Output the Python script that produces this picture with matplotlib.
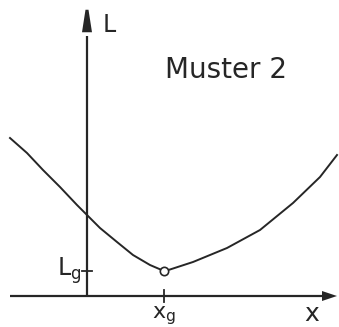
import matplotlib
matplotlib.use("Agg")
import matplotlib.pyplot as plt

# sketch of the cost curve L(x) with its minimum at (x_g, L_g)
left_x = [-3.08, -2.40, -1.76, -1.08, -0.40, 0.00, 0.52, 1.20, 1.84, 2.52, 3.08]
left_L = [6.32, 5.72, 5.04, 4.36, 3.64, 3.24, 2.72, 2.16, 1.64, 1.24, 1.00]
right_x = [3.08, 3.32, 4.24, 5.60, 6.92, 8.24, 9.32, 10.00]
right_L = [1.00, 1.06, 1.36, 1.92, 2.64, 3.72, 4.76, 5.64]
x_g = 3.08
L_g = 1.00
title = "Muster 2"

ink = "#262626"
plt.rcParams['font.family'] = ['DejaVu Sans']
plt.rcParams['mathtext.fontset'] = 'dejavusans'

fig = plt.figure(figsize=(3.39, 3.27), dpi=100)
ax = fig.add_axes([0, 0, 1, 1])
ax.set_xlim(-3.48, 10.08)
ax.set_ylim(-1.24, 11.84)
ax.axis('off')

# axes with arrow heads
ax.plot([-3.1, 9.5], [0, 0], color=ink, lw=1.6, solid_capstyle='butt')
ax.plot([0, 0], [-0.04, 10.4], color=ink, lw=1.6, solid_capstyle='butt')
ax.fill([9.4, 10.0, 9.4], [0.2, 0.0, -0.2], color=ink, lw=0)
ax.fill([-0.2, -0.06, 0.06, 0.2], [10.55, 11.45, 11.45, 10.55], color=ink, lw=0)

# curve
ax.plot(left_x, left_L, color=ink, lw=1.4, solid_joinstyle='round')
ax.plot(right_x, right_L, color=ink, lw=1.4, solid_joinstyle='round')
ax.plot([x_g], [L_g], 'o', ms=6, mfc='white', mec=ink, mew=1.2, zorder=5)

# ticks at L_g and x_g
ax.plot([-0.2, 0.2], [L_g, L_g], color=ink, lw=1.3)
ax.plot([x_g, x_g], [-0.24, 0.24], color=ink, lw=1.3)

ax.text(0.62, 10.85, "L", fontsize=17, color=ink, ha='left', va='center')
ax.text(5.56, 9.05, title, fontsize=20, color=ink, ha='center', va='center')
ax.text(-0.22, 1.0, r"$\mathregular{L_g}$", fontsize=17, color=ink,
        ha='right', va='center')
ax.text(x_g, -0.8, r"$\mathregular{x_g}$", fontsize=16, color=ink,
        ha='center', va='center')
ax.text(8.98, -0.72, "x", fontsize=18, color=ink, ha='center', va='center')

fig.savefig("out.png", dpi=100)
